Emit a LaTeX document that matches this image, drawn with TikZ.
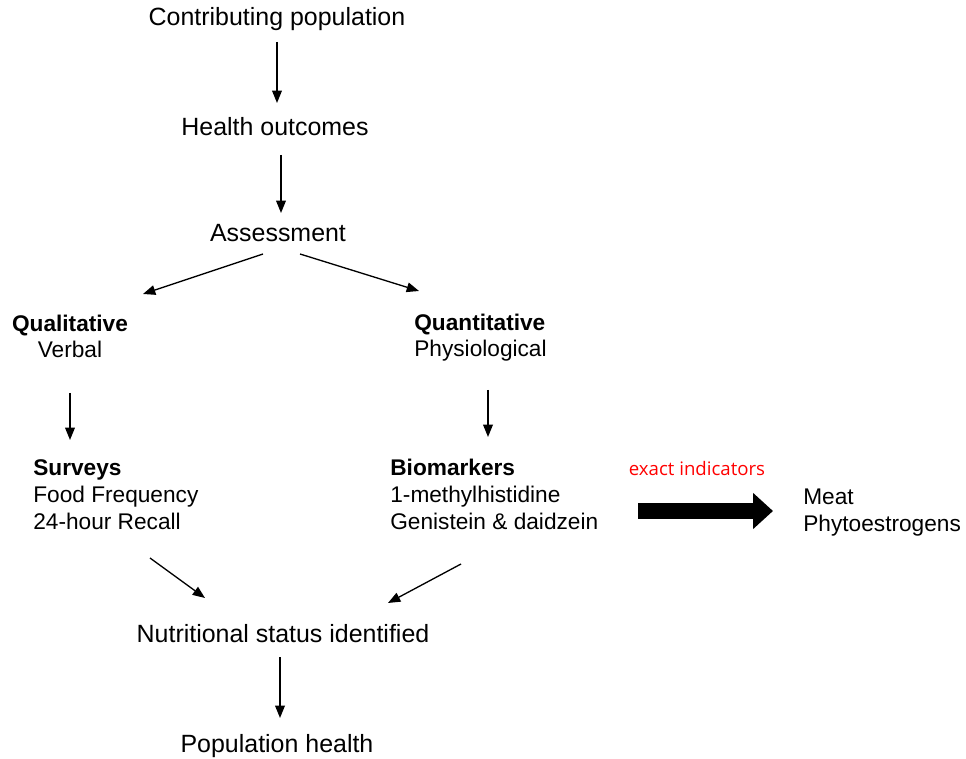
\documentclass[tikz,border=0pt]{standalone}
\usepackage{fontspec}
\setmainfont{Liberation Sans}
\newfontfamily\opensans{Open Sans}
\usetikzlibrary{arrows.meta}

\begin{document}
\begin{tikzpicture}[x=0.02cm,y=-0.02cm]
    \tikzstyle{every node}=[inner sep=0pt,font=\fontsize{14.2}{15.3}\selectfont]
    \tikzstyle{small}=[font=\fontsize{12.9}{15.3}\selectfont]
    \tikzstyle{arr}=[-{Triangle[length=7pt,width=5.5pt]},line width=0.75pt]
    \useasboundingbox (0,0) rectangle (966,759);
    \draw (277,26) node[anchor=base] (1) {Contributing population};
    \draw (275,136) node[anchor=base] (2) {Health outcomes};
    \draw (278,242) node[anchor=base] (3) {Assessment};
    \draw (70,358) node[small,anchor=base,align=center] (4) {\textbf{Qualitative}\\Verbal};
    \draw (414,357) node[small,anchor=base west,align=left] (5) {\textbf{Quantitative}\\Physiological};
    \draw (33,529) node[small,anchor=base west,align=left] (6) {\textbf{Surveys}\\Food Frequency\\24-hour Recall};
    \draw (390,529) node[small,anchor=base west,align=left] (7) {\textbf{Biomarkers}\\1-methylhistidine\\Genistein \& daidzein};
    \draw (697,469) node[text=red,font=\opensans\fontsize{10.6}{12}\selectfont] (8) {exact indicators};
    \draw (803,531) node[small,anchor=base west,align=left] (9) {Meat\\Phytoestrogens};
    \draw (283,642) node[anchor=base] (10) {Nutritional status identified};
    \draw (277,752) node[anchor=base] (11) {Population health};
    %%%%% top chain
    \draw[arr] ([shift={(0,16)}]1.base) -- ([shift={(2,-33)}]2.base);
    \draw[arr] ([shift={(6,19)}]2.base) -- ([shift={(3,-29)}]3.base);
    \draw[arr] ([shift={(-15,12)}]3.base) -- ([shift={(73,-64)}]4.base);
    \draw[arr] ([shift={(22,12)}]3.base) -- ([shift={(5,-66)}]5.base west);
    %%%%% two branches
    \draw[arr] ([shift={(0,35)}]4.base) -- ([shift={(37,-89)}]6.base west);
    \draw[arr] ([shift={(74,33)}]5.base west) -- ([shift={(98,-92)}]7.base west);
    \draw[arr] ([shift={(117,29)}]6.base west) -- ([shift={(-78,-44)}]10.base);
    \draw[arr] ([shift={(71,35)}]7.base west) -- ([shift={(105,-39)}]10.base);
    \draw[arr] ([shift={(-3,15)}]10.base) -- ([shift={(3,-34)}]11.base);
    %%%%
    \draw[line width=9.6pt,-{Triangle[length=11.3pt,width=19.8pt]}] ([shift={(248,-18)}]7.base west) -- ([shift={(-30,-20)}]9.base west);
\end{tikzpicture}
\end{document}
